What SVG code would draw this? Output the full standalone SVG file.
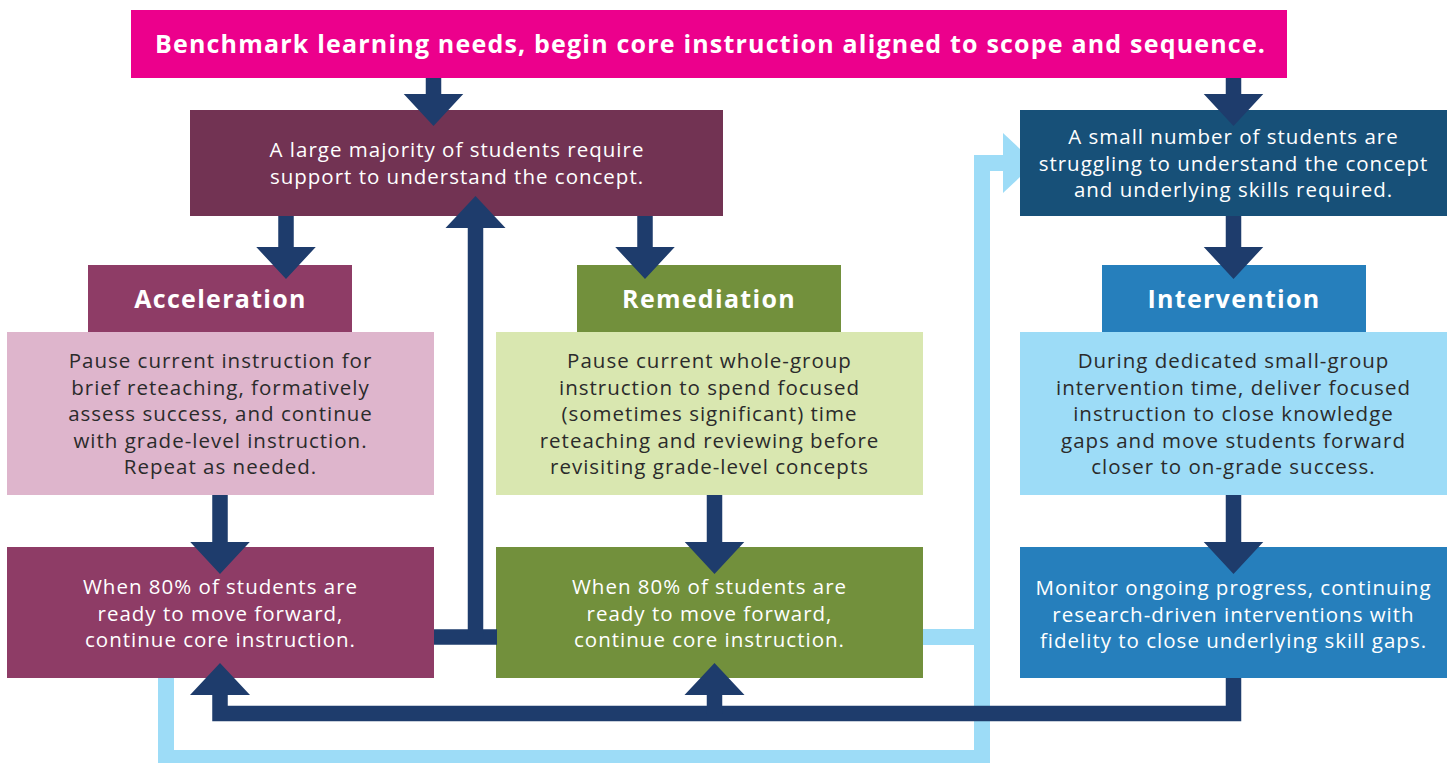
<svg xmlns="http://www.w3.org/2000/svg" width="1448" height="763" viewBox="0 0 1448 763">
<style>
.t{font-family:"Open Sans","Liberation Sans",sans-serif;text-anchor:middle}
.h{font-weight:700;font-size:25px;fill:#fff;letter-spacing:1.3px}
.b{font-weight:400;font-size:20.5px;letter-spacing:1px}
.w{fill:#fff}
.d{fill:#2b2b2b}
.arrow{fill:#1e3c6c}
.navy{fill:none;stroke:#1e3c6c;stroke-width:15.5;stroke-linejoin:miter}
.lb{fill:none;stroke:#9ddcf7;stroke-width:16;stroke-linejoin:miter}
</style>
<rect width="1448" height="763" fill="#fff"/>
<g id="connectors-light">
<path class="lb" d="M166,678 V758 H982 V163 H1004"/>
<path class="lb" d="M922,637 H982"/>
<polygon fill="#9ddcf7" points="1003,133 1035,163 1003,193"/>
</g>
<g id="banner">
<rect x="131" y="10" width="1156" height="68" fill="#ec008c"/>
<text class="t h" x="710" y="53" textLength="1110" lengthAdjust="spacing" style="letter-spacing:0">Benchmark learning needs, begin core instruction aligned to scope and sequence.</text>
</g>
<g id="majority">
<rect x="190" y="110" width="533" height="106" fill="#723353"/>
<text class="t b w" x="457" y="157">A large majority of students require</text>
<text class="t b w" x="457" y="184">support to understand the concept.</text>
</g>
<g id="small-number">
<rect x="1020" y="110" width="427" height="106" fill="#175078"/>
<text class="t b w" x="1233.5" y="144">A small number of students are</text>
<text class="t b w" x="1233.5" y="170.5">struggling to understand the concept</text>
<text class="t b w" x="1233.5" y="197">and underlying skills required.</text>
</g>
<g id="acceleration">
<rect x="88" y="265" width="264" height="68" fill="#8e3c66"/>
<text class="t h" x="220.5" y="308">Acceleration</text>
<rect x="7" y="332" width="427" height="163" fill="#deb5cc"/>
<text class="t b d" x="220.5" y="368">Pause current instruction for</text>
<text class="t b d" x="220.5" y="394.5">brief reteaching, formatively</text>
<text class="t b d" x="220.5" y="421">assess success, and continue</text>
<text class="t b d" x="220.5" y="447.5">with grade-level instruction.</text>
<text class="t b d" x="220.5" y="474">Repeat as needed.</text>
</g>
<g id="remediation">
<rect x="577" y="265" width="264" height="68" fill="#72903c"/>
<text class="t h" x="709" y="308">Remediation</text>
<rect x="496" y="332" width="427" height="163" fill="#d9e7b0"/>
<text class="t b d" x="709.5" y="368">Pause current whole-group</text>
<text class="t b d" x="709.5" y="394.5">instruction to spend focused</text>
<text class="t b d" x="709.5" y="421">(sometimes significant) time</text>
<text class="t b d" x="709.5" y="447.5">reteaching and reviewing before</text>
<text class="t b d" x="709.5" y="474">revisiting grade-level concepts</text>
</g>
<g id="intervention">
<rect x="1102" y="265" width="264" height="68" fill="#267fbc"/>
<text class="t h" x="1234" y="308">Intervention</text>
<rect x="1020" y="332" width="427" height="163" fill="#9ddcf7"/>
<text class="t b d" x="1233.5" y="368">During dedicated small-group</text>
<text class="t b d" x="1233.5" y="394.5">intervention time, deliver focused</text>
<text class="t b d" x="1233.5" y="421">instruction to close knowledge</text>
<text class="t b d" x="1233.5" y="447.5">gaps and move students forward</text>
<text class="t b d" x="1233.5" y="474">closer to on-grade success.</text>
</g>
<g id="accel-continue">
<rect x="7" y="547" width="427" height="131" fill="#8e3c66"/>
<text class="t b w" x="220.5" y="594">When 80% of students are</text>
<text class="t b w" x="220.5" y="620.5">ready to move forward,</text>
<text class="t b w" x="220.5" y="647">continue core instruction.</text>
</g>
<g id="remed-continue">
<rect x="496" y="547" width="427" height="131" fill="#72903c"/>
<text class="t b w" x="709.5" y="594">When 80% of students are</text>
<text class="t b w" x="709.5" y="620.5">ready to move forward,</text>
<text class="t b w" x="709.5" y="647">continue core instruction.</text>
</g>
<g id="monitor">
<rect x="1020" y="547" width="427" height="131" fill="#267fbc"/>
<text class="t b w" x="1233.5" y="595">Monitor ongoing progress, continuing</text>
<text class="t b w" x="1233.5" y="621.5">research-driven interventions with</text>
<text class="t b w" x="1233.5" y="648">fidelity to close underlying skill gaps.</text>
</g>
<g id="connectors">
<path class="navy" d="M1233.5,678 V713.5 H220 V694"/>
<path class="navy" d="M714.5,713.5 V694"/>
<polygon class="arrow" points="190,695 250,695 220,663"/>
<polygon class="arrow" points="684.5,695 744.5,695 714.5,663"/>
<path class="navy" d="M434,637 H497"/>
<path class="navy" d="M475.5,637 V226"/>
<polygon class="arrow" points="445.5,228 505.5,228 475.5,196"/>
<path class="arrow" d="M425.75,78 h15.5 v16 h22 l-29.75,32 l-29.75,-32 h22 z"/>
<path class="arrow" d="M1225.75,78 h15.5 v16 h22 l-29.75,32 l-29.75,-32 h22 z"/>
<path class="arrow" d="M278.25,216 h15.5 v31 h22 l-29.75,32 l-29.75,-32 h22 z"/>
<path class="arrow" d="M637.25,216 h15.5 v31 h22 l-29.75,32 l-29.75,-32 h22 z"/>
<path class="arrow" d="M1225.75,216 h15.5 v31 h22 l-29.75,32 l-29.75,-32 h22 z"/>
<path class="arrow" d="M212.25,495 h15.5 v47 h22 l-29.75,32 l-29.75,-32 h22 z"/>
<path class="arrow" d="M706.75,495 h15.5 v47 h22 l-29.75,32 l-29.75,-32 h22 z"/>
<path class="arrow" d="M1225.75,495 h15.5 v47 h22 l-29.75,32 l-29.75,-32 h22 z"/>
</g>
</svg>
